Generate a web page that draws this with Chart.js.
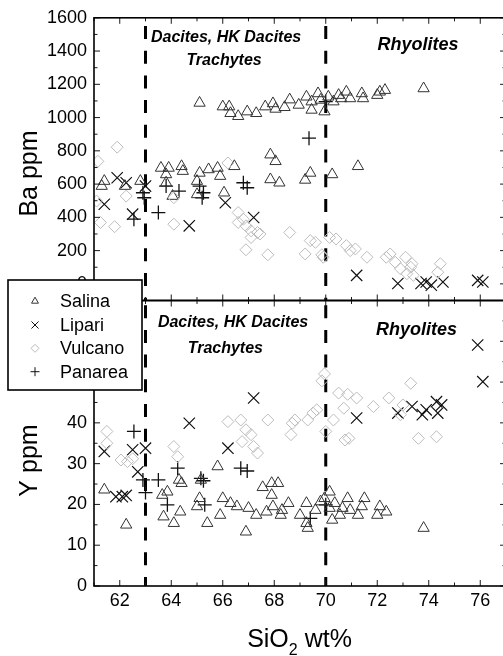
<!DOCTYPE html>
<html>
<head>
<meta charset="utf-8">
<script src="https://cdn.jsdelivr.net/npm/chart.js@4.4.1/dist/chart.umd.min.js"></script>
<style>
  html, body { margin: 0; padding: 0; background: #fff; overflow: hidden; width: 503px; height: 656px; }
  #wrap { position: relative; width: 512px; height: 656px; }
  #topPanel { position: absolute; left: 0; top: 0; width: 512px; height: 340px; }
  #botPanel { position: absolute; left: 0; top: 270px; width: 512px; height: 386px; }
</style>
</head>
<body>
<div id="wrap">
  <canvas id="topPanel" width="512" height="340"></canvas>
  <canvas id="botPanel" width="512" height="386"></canvas>
</div>
<script>
// ---- axis ticks ----
const silicaTicks = [62, 64, 66, 68, 70, 72, 74, 76];
const baTicks = [0, 200, 400, 600, 800, 1000, 1200, 1400, 1600];
const yTicks = [0, 10, 20, 30, 40, 50, 60, 70];
// compositional field boundaries (SiO2 wt%)
const fieldBounds = [63, 70];

// ---- Ba ppm vs SiO2 wt% ----
const salinaBa = [
  [65.1,1088],[66.0,1066],[66.25,1066],[66.3,1026],[66.6,1008],[66.95,1036],[67.3,1026],[67.65,1066],
  [67.95,1085],[68.05,1052],[68.4,1062],[68.6,1108],[68.95,1076],[69.25,1125],[69.45,1096],[69.45,1046],
  [69.7,1145],[69.8,1106],[69.95,1036],[70.1,1125],[70.3,1096],[70.5,1135],[70.6,1115],[70.8,1155],
  [70.95,1115],[71.4,1145],[71.45,1115],[72.0,1135],[72.1,1155],[72.3,1165],[73.8,1175],
  [61.3,588],[61.4,618],[62.2,588],[62.8,618],[63.6,697],[63.9,697],[63.8,658],[63.8,608],[64.05,528],
  [64.4,707],[64.45,678],[65.0,618],[65.0,538],[65.1,667],[65.45,688],[65.8,697],[65.9,648],[66.05,548],
  [66.45,707],[67.85,777],[68.05,737],[67.85,628],[68.2,608],[69.2,625],[69.4,667],[70.25,658],[71.25,707]
];
const lipariBa = [
  [61.4,479],[61.9,638],[62.25,608],[62.5,419],[63.0,588],[64.7,349],[66.1,488],[67.2,399],
  [71.2,51],[72.8,2],[73.7,2],[73.9,11],[74.1,-8],[74.55,11],[75.9,21],[76.1,11]
];
const vulcanoBa = [
  [61.15,737],[61.9,822],[61.1,498],[61.25,369],[61.8,344],[62.25,528],[64.1,359],[64.1,518],
  [66.2,727],[66.6,429],[66.6,369],[66.9,349],[66.8,389],[67.1,319],[67.35,309],[67.1,279],
  [66.9,205],[67.75,175],[67.45,300],[68.6,309],[69.4,260],[69.6,250],[69.2,180],[69.85,175],
  [69.9,160],[70.15,279],[70.4,270],[70.8,230],[70.95,200],[71.15,210],[71.6,160],[72.35,160],
  [72.5,180],[72.7,130],[73.1,160],[72.9,91],[73.3,100],[73.35,121],[73.15,61],[73.4,51],
  [74.45,121],[74.35,70]
];
const panareaBa = [
  [62.55,389],[62.9,548],[62.95,518],[63.5,429],[63.8,588],[64.3,558],[65.1,588],[65.25,548],
  [65.2,518],[66.8,608],[66.95,578],[69.35,876],[70.0,1096]
];

// ---- Y ppm vs SiO2 wt% ----
const salinaY = [
  [61.4,23.6],[62.25,15.0],[63.65,22.3],[63.85,23.1],[63.7,17.0],[64.1,15.4],[64.35,18.2],[64.4,25.2],
  [64.3,26.0],[65.1,21.5],[65.0,19.5],[65.15,26.0],[65.4,15.4],[65.8,29.3],[66.0,21.5],[65.9,17.4],
  [66.3,20.3],[66.55,19.5],[66.9,13.3],[67.0,19.1],[67.3,17.4],[67.55,24.2],[67.7,18.2],[67.9,25.2],
  [67.9,22.3],[67.95,19.5],[68.15,25.2],[68.25,17.4],[68.3,18.6],[68.55,20.3],[69.0,17.4],[69.25,20.3],
  [69.25,15.4],[69.3,14.2],[69.6,18.6],[69.8,20.7],[69.95,21.5],[70.15,23.1],[70.15,19.1],[70.25,16.2],
  [70.35,20.3],[70.55,17.4],[70.65,19.1],[70.85,21.5],[70.95,18.6],[71.25,17.4],[71.4,19.5],[71.5,21.5],
  [72.0,17.4],[72.1,19.5],[72.35,18.2],[73.8,14.2]
];
const lipariY = [
  [61.4,33.0],[61.85,21.9],[62.1,21.9],[62.25,22.2],[62.5,33.4],[62.7,28.0],[63.0,33.8],[64.7,39.9],
  [66.2,33.8],[67.2,46.1],[71.2,41.2],[72.8,42.4],[73.35,44.0],[73.75,42.0],[73.9,43.2],[74.3,45.2],
  [74.35,42.4],[74.5,44.4],[75.9,59.1],[76.1,50.1]
];
const vulcanoY = [
  [61.5,37.9],[61.5,35.0],[62.05,30.9],[62.3,30.5],[62.5,31.2],[64.1,34.2],[64.25,31.7],[66.2,40.3],
  [66.7,40.7],[66.9,38.3],[67.1,37.1],[66.75,35.4],[67.2,34.2],[67.35,32.6],[67.75,40.7],[68.7,39.9],
  [68.65,37.1],[68.8,40.7],[69.5,42.4],[69.65,43.2],[69.3,40.7],[69.95,52.0],[69.85,50.3],[70.0,37.9],
  [70.3,40.7],[70.5,47.3],[70.85,47.0],[70.7,43.6],[70.75,35.8],[71.2,46.1],[70.9,36.2],[71.85,44.0],
  [72.45,46.1],[72.9,42.0],[73.3,49.7],[73.0,44.4],[73.6,36.2],[74.3,36.6]
];
const panareaY = [
  [62.55,37.9],[62.9,26.0],[63.0,22.9],[63.5,26.0],[63.85,19.9],[64.25,28.9],[65.15,26.4],[65.25,25.8],
  [65.3,19.9],[66.7,28.9],[66.95,28.2],[69.4,16.6],[70.0,19.9]
];

const FONT = '"Liberation Sans", Arial, Helvetica, sans-serif';

// marker styles per island
const styles = {
  Salina:  { pointStyle: 'triangle', radius: 6.5, color: '#333333', width: 1 },
  Lipari:  { pointStyle: 'crossRot', radius: 8,   color: '#111111', width: 1.2 },
  Vulcano: { pointStyle: 'rectRot',  radius: 6,   color: '#bcbcbc', width: 1 },
  Panarea: { pointStyle: 'cross',    radius: 7,   color: '#111111', width: 1.3 }
};

function toPts(arr) { return arr.map(p => ({ x: p[0], y: p[1] })); }

function ds(name, arr) {
  const s = styles[name];
  return {
    label: name,
    data: toPts(arr),
    pointStyle: s.pointStyle,
    pointRadius: s.radius,
    pointHoverRadius: s.radius,
    pointBorderColor: s.color,
    pointBackgroundColor: 'rgba(0,0,0,0)',
    pointBorderWidth: s.width,
    showLine: false
  };
}

function halfSteps(major, lo, hi) {
  const step = major[1] - major[0];
  const out = [];
  for (let v = major[0] - step / 2; v <= hi + 1e-9; v += step) if (v >= lo - 1e-9) out.push(v);
  return out;
}

// frame, inward ticks, field boundaries and field names
const framePlugin = {
  id: 'frame',
  beforeDatasetsDraw(chart, args, o) {
    const { ctx, chartArea: a, scales: { x } } = chart;
    ctx.save();
    ctx.strokeStyle = '#000';
    ctx.lineWidth = 3;
    ctx.setLineDash([13, 11.7]);
    ctx.lineDashOffset = o.dashOffset;
    for (const v of fieldBounds) {
      const px = x.getPixelForValue(v);
      ctx.beginPath(); ctx.moveTo(px, a.top); ctx.lineTo(px, a.bottom); ctx.stroke();
    }
    ctx.restore();
  },
  afterDatasetsDraw(chart, args, o) {
    const { ctx, chartArea: a, scales: { x, y } } = chart;
    ctx.save();
    // field names
    ctx.fillStyle = '#000';
    ctx.textAlign = 'center';
    ctx.textBaseline = 'alphabetic';
    for (const l of o.labels) {
      ctx.font = 'italic bold ' + l.size + 'px ' + FONT;
      ctx.fillText(l.text, x.getPixelForValue(l.x), a.top + l.dy);
    }
    // ticks
    ctx.strokeStyle = '#1a1a1a';
    ctx.lineWidth = 1;
    const xMinor = halfSteps(silicaTicks, x.min, x.max);
    const yMinor = halfSteps(o.yTicks, y.min, y.max);
    const tick = (x1, y1, x2, y2) => { ctx.beginPath(); ctx.moveTo(x1, y1); ctx.lineTo(x2, y2); ctx.stroke(); };
    for (const v of silicaTicks) { const p = x.getPixelForValue(v); tick(p, a.bottom, p, a.bottom - 6); tick(p, a.top, p, a.top + 6); }
    for (const v of xMinor) { const p = x.getPixelForValue(v); tick(p, a.bottom, p, a.bottom - 3.5); tick(p, a.top, p, a.top + 3.5); }
    for (const v of o.yTicks) { const p = y.getPixelForValue(v); tick(a.left, p, a.left + 6, p); tick(a.right, p, a.right - 6, p); }
    for (const v of yMinor) { const p = y.getPixelForValue(v); tick(a.left, p, a.left + 3.5, p); tick(a.right, p, a.right - 3.5, p); }
    // frame
    ctx.strokeStyle = '#000';
    ctx.lineWidth = 1.6;
    ctx.strokeRect(a.left, a.top, a.right - a.left, a.bottom - a.top);
    ctx.restore();
  },
  afterDraw(chart, args, o) {
    const { ctx } = chart;
    ctx.save();
    ctx.fillStyle = '#000';
    // vertical axis title
    ctx.font = '25px ' + FONT;
    ctx.translate(37, o.titleY);
    ctx.rotate(-Math.PI / 2);
    ctx.textAlign = 'center';
    ctx.textBaseline = 'alphabetic';
    ctx.fillText(o.title, 0, 0);
    ctx.restore();
    if (o.after) o.after(chart);
  }
};

function drawMarker(ctx, style, cx, cy, r) {
  ctx.beginPath();
  if (style === 'triangle') {
    for (let i = 0; i < 3; i++) {
      const ang = i * 2 * Math.PI / 3;
      const px = cx + Math.sin(ang) * r, py = cy - Math.cos(ang) * r;
      i ? ctx.lineTo(px, py) : ctx.moveTo(px, py);
    }
    ctx.closePath();
  } else if (style === 'crossRot') {
    const d = r * Math.SQRT1_2;
    ctx.moveTo(cx - d, cy - d); ctx.lineTo(cx + d, cy + d);
    ctx.moveTo(cx - d, cy + d); ctx.lineTo(cx + d, cy - d);
  } else if (style === 'rectRot') {
    ctx.moveTo(cx - r, cy); ctx.lineTo(cx, cy - r); ctx.lineTo(cx + r, cy); ctx.lineTo(cx, cy + r); ctx.closePath();
  } else {
    ctx.moveTo(cx - r, cy); ctx.lineTo(cx + r, cy);
    ctx.moveTo(cx, cy - r); ctx.lineTo(cx, cy + r);
  }
  ctx.stroke();
}

// legend box and the SiO2 axis title, drawn on the lower panel
function drawLowerExtras(chart) {
  const { ctx, chartArea: a } = chart;
  ctx.save();
  // legend
  const bx = 8, by = 10, bw = 134, bh = 110;
  ctx.fillStyle = '#fff';
  ctx.fillRect(bx, by, bw, bh);
  ctx.strokeStyle = '#000';
  ctx.lineWidth = 1.6;
  ctx.strokeRect(bx, by, bw, bh);
  const names = chart.data.datasets.map(d => d.label);
  const order = ['Salina', 'Lipari', 'Vulcano', 'Panarea'];
  const rows = [30.7, 55, 78.3, 101.7];
  const legendR = { Salina: 4, Lipari: 5, Vulcano: 4, Panarea: 4.5 };
  ctx.font = '18px ' + FONT;
  ctx.textAlign = 'left';
  ctx.textBaseline = 'middle';
  order.forEach((n, i) => {
    if (!names.includes(n)) return;
    const s = styles[n];
    ctx.strokeStyle = s.color;
    ctx.lineWidth = 1;
    drawMarker(ctx, s.pointStyle, 35, rows[i] + (s.pointStyle === 'triangle' ? 0.5 : 0), legendR[n]);
    ctx.fillStyle = '#000';
    ctx.fillText(n, 60, rows[i] + 1);
  });
  // x-axis title with subscript
  const cx = (a.left + a.right) / 2 - 0.5, base = 376.7;
  const big = '25px ' + FONT, small = '16px ' + FONT;
  ctx.font = big; const w1 = ctx.measureText('SiO').width; const w3 = ctx.measureText(' wt%').width;
  ctx.font = small; const w2 = ctx.measureText('2').width;
  let sx = cx - (w1 + w2 + w3) / 2;
  ctx.textBaseline = 'alphabetic';
  ctx.fillStyle = '#000';
  ctx.font = big; ctx.fillText('SiO', sx, base); sx += w1;
  ctx.font = small; ctx.fillText('2', sx, base + 8); sx += w2;
  ctx.font = big; ctx.fillText(' wt%', sx, base);
  ctx.restore();
}

function makePanel(id, cfg) {
  return new Chart(document.getElementById(id), {
    type: 'scatter',
    data: { datasets: cfg.datasets },
    plugins: [framePlugin],
    options: {
      responsive: false,
      maintainAspectRatio: false,
      animation: false,
      events: [],
      layout: { autoPadding: false, padding: { top: cfg.padTop, right: 6, left: 0, bottom: 0 } },
      plugins: {
        legend: { display: false },
        tooltip: { enabled: false },
        frame: cfg.frame
      },
      scales: {
        x: {
          type: 'linear', min: 61, max: 77,
          grid: { display: false, drawTicks: false },
          border: { display: false },
          afterBuildTicks: s => { s.ticks = silicaTicks.map(v => ({ value: v })); },
          afterFit: s => { s.height = cfg.xHeight; },
          ticks: { display: cfg.xLabels, padding: 4, color: '#000', font: { family: FONT, size: 18 },
                   callback: v => String(v) }
        },
        y: {
          type: 'linear', min: cfg.yMin, max: cfg.yMax,
          grid: { display: false, drawTicks: false },
          border: { display: false },
          afterBuildTicks: s => { s.ticks = cfg.yTicks.map(v => ({ value: v })); },
          afterFit: s => { s.width = 94; },
          ticks: { padding: 7, color: '#000', font: { family: FONT, size: 18 },
                   callback: v => String(v) }
        }
      }
    }
  });
}

makePanel('topPanel', {
  datasets: [ds('Vulcano', vulcanoBa), ds('Salina', salinaBa), ds('Lipari', lipariBa), ds('Panarea', panareaBa)],
  padTop: 15.5, xHeight: 39.5, xLabels: false,
  yMin: -100, yMax: 1600, yTicks: baTicks,
  frame: {
    yTicks: baTicks, dashOffset: 16.5, title: 'Ba ppm', titleY: 173.5,
    labels: [
      { text: 'Dacites, HK Dacites', x: 66.13, dy: 24.5, size: 16 },
      { text: 'Trachytes', x: 66.05, dy: 47.5, size: 16 },
      { text: 'Rhyolites', x: 73.58, dy: 32.5, size: 18 }
    ]
  }
});

makePanel('botPanel', {
  datasets: [ds('Vulcano', vulcanoY), ds('Salina', salinaY), ds('Lipari', lipariY), ds('Panarea', panareaY)],
  padTop: 30.5, xHeight: 70, xLabels: true,
  yMin: 0, yMax: 70, yTicks: yTicks,
  frame: {
    yTicks: yTicks, dashOffset: 20, title: 'Y ppm', titleY: 190.5,
    labels: [
      { text: 'Dacites, HK Dacites', x: 66.4, dy: 26.2, size: 16 },
      { text: 'Trachytes', x: 66.1, dy: 52.2, size: 16 },
      { text: 'Rhyolites', x: 73.52, dy: 34.5, size: 18 }
    ],
    after: drawLowerExtras
  }
});
</script>
</body>
</html>
